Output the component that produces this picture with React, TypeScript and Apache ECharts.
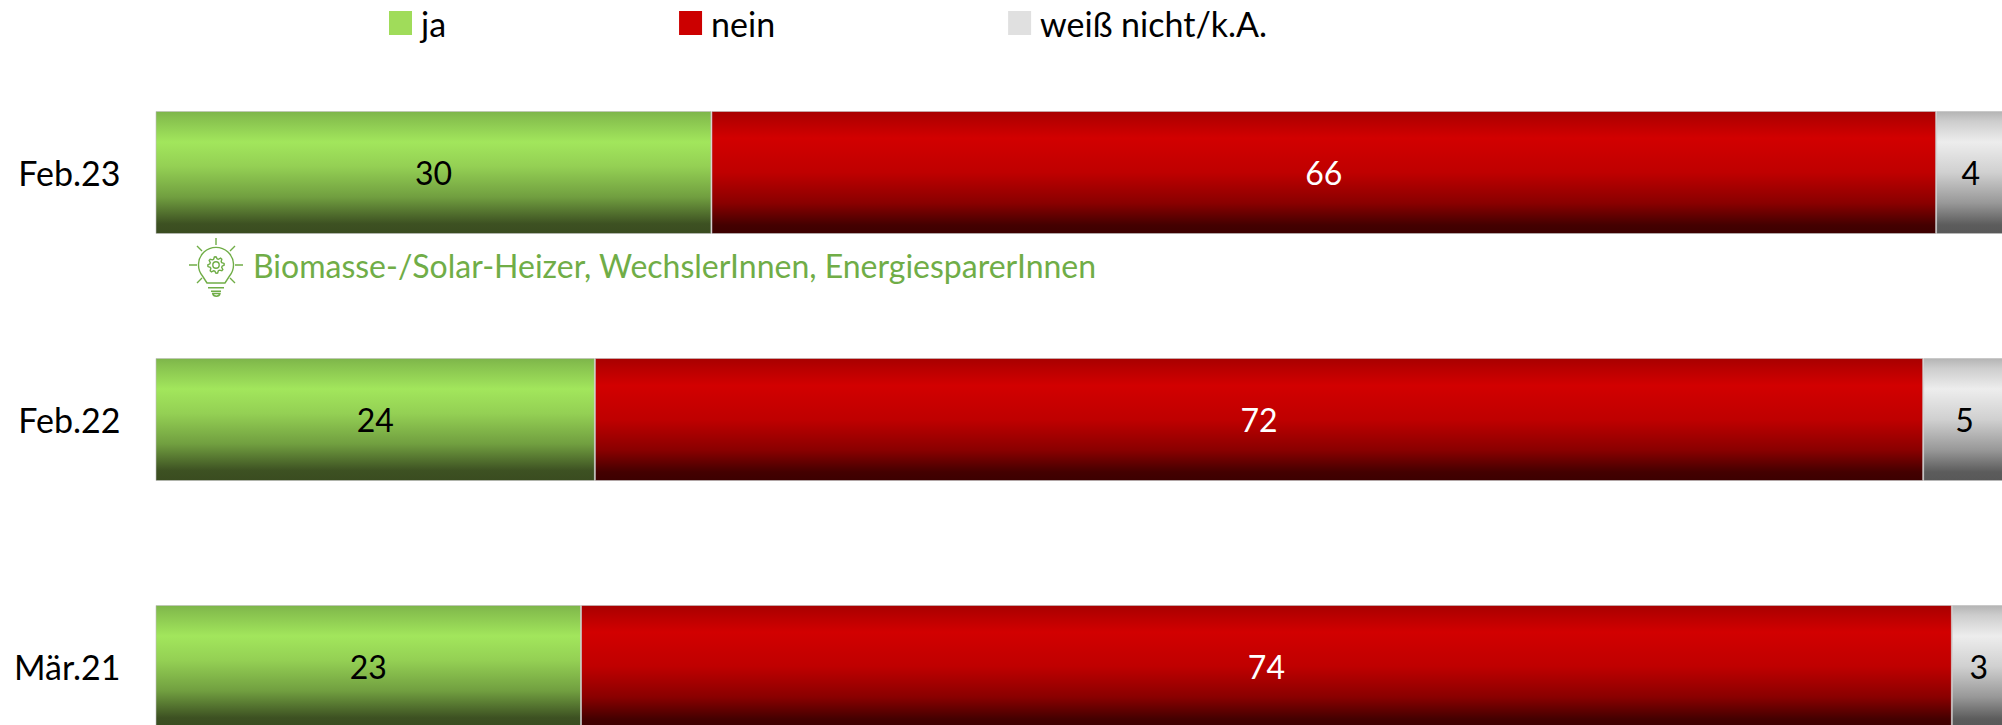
import React, { useEffect, useRef } from "react";
import * as echarts from "echarts";

const categories = ["Feb.23", "Feb.22", "Mär.21"];
const jaValues = [30.05, 23.75, 23];
const neinValues = [66.2, 71.8, 74.1];
const wnValues = [3.75, 4.6, 2.9];
const seriesNames = ["ja", "nein", "weiß nicht/k.A."];
const note = "Biomasse-/Solar-Heizer, WechslerInnen, EnergiesparerInnen";

const FONT = "Lato";
const grad = (stops: [number, string][]) => ({
  type: "linear", x: 0, y: 0, x2: 0, y2: 1,
  colorStops: stops.map(([offset, color]) => ({ offset, color })),
});
const green = grad([[0, "#7db54a"], [0.05, "#86c04e"], [0.25, "#a2e65c"], [0.45, "#94d054"], [0.7, "#719f40"], [0.92, "#3d5122"], [1, "#3a4c20"]]);
const red = grad([[0, "#a80000"], [0.08, "#b80000"], [0.22, "#d20000"], [0.5, "#bf0000"], [0.75, "#8a0000"], [0.93, "#440000"], [1, "#3c0000"]]);
const grey = grad([[0, "#b4b4b4"], [0.08, "#cdcdcd"], [0.25, "#ededed"], [0.5, "#d0d0d0"], [0.75, "#989898"], [0.93, "#5c5c5c"], [1, "#585858"]]);

function gearPath(cx: number, cy: number) {
  let d = "";
  const teeth = 8;
  for (let i = 0; i < teeth * 4; i++) {
    const a = (i / (teeth * 4)) * Math.PI * 2 - Math.PI / 16;
    const r = i % 4 < 2 ? 8.2 : 6.2;
    d += `${i === 0 ? "M" : "L"}${(cx + r * Math.cos(a)).toFixed(2)} ${(cy + r * Math.sin(a)).toFixed(2)} `;
  }
  d += "Z M" + (cx + 3.2) + " " + cy + " A3.2 3.2 0 1 1 " + (cx - 3.2) + " " + cy + " A3.2 3.2 0 1 1 " + (cx + 3.2) + " " + cy + " Z";
  return d;
}
const bulb =
  "M216 238V245 M189 265H197 M235 265H243 M197 246L202 251 M235 246L230 251 M197 283L202 278 M235 283L230 278 " +
  "M207 283L202.5 276A17.5 17.5 0 1 1 229.5 276L225 283Z M208 287.7H224 M211 291.3H221 M212.7 293.5H220A3.7 3.2 0 0 1 212.7 293.5Z " +
  gearPath(216, 265);
echarts.graphic.registerShape("bulbIcon", echarts.graphic.extendPath(bulb, {}) as any);

export default function App() {
  const ref = useRef<HTMLDivElement>(null);
  useEffect(() => {
    document.body.style.margin = "0";
    const chart = echarts.init(ref.current!, undefined, { renderer: "svg" });
    const mk = (name: string, data: number[], color: any, labelColor: string) => ({
      name, type: "bar", stack: "total", data, barWidth: 123,
      itemStyle: { color, borderColor: "rgba(190,190,190,0.6)", borderWidth: 1 },
      label: {
        show: true, position: "inside", color: labelColor, fontFamily: FONT, fontSize: 32,
        formatter: (p: any) => String(Math.round(p.value)),
      },
    });
    chart.setOption({
      animation: false,
      backgroundColor: "#ffffff",
      textStyle: { fontFamily: FONT },
      legend: {
        left: 384, top: 1, itemWidth: 23, itemHeight: 24, itemGap: 233, icon: "rect",
        textStyle: { fontFamily: FONT, fontSize: 34, color: "#000", padding: [0, 0, 14, 4] },
        data: [
          { name: seriesNames[0], itemStyle: { color: "#a0dc5a", borderWidth: 0 } },
          { name: seriesNames[1], itemStyle: { color: "#cc0000", borderWidth: 0 } },
          { name: seriesNames[2], itemStyle: { color: "#e0e0e0", borderWidth: 0 } },
        ],
      },
      grid: { left: 155.5, top: 49, width: 1850, height: 741, outerBoundsMode: "none" },
      xAxis: { type: "value", min: 0, max: 100, show: false },
      yAxis: {
        type: "category", inverse: true, data: categories,
        axisLine: { show: false }, axisTick: { show: false },
        axisLabel: { margin: 35, fontFamily: FONT, fontSize: 34, color: "#000" },
      },
      series: [
        mk(seriesNames[0], jaValues, green, "#000"),
        mk(seriesNames[1], neinValues, red, "#fff"),
        mk(seriesNames[2], wnValues, grey, "#000"),
      ],
      graphic: [
        { type: "bulbIcon", x: 0, y: 0, style: { fill: "none", stroke: "#70ad47", lineWidth: 1.4 } },
        { type: "text", x: 253, y: 265, style: { text: note, fill: "#70ad47", font: `32px ${FONT}`, verticalAlign: "middle" } },
      ],
    });
    return () => chart.dispose();
  }, []);
  return <div ref={ref} style={{ width: 2002, height: 725 }} />;
}
